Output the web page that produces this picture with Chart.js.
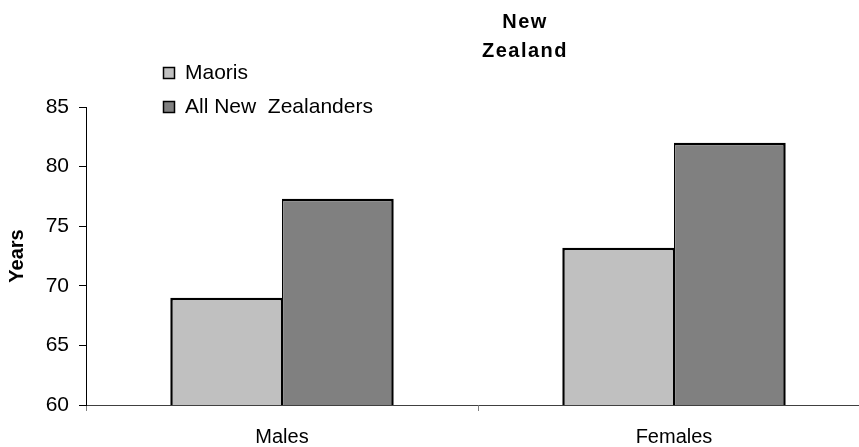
<!DOCTYPE html>
<html>
<head>
<meta charset="utf-8">
<script src="https://cdn.jsdelivr.net/npm/chart.js@4.4.1/dist/chart.umd.min.js"></script>
<style>
  html, body { margin: 0; padding: 0; background: #fff; overflow: hidden; }
  #wrap { width: 870px; height: 447px; }
</style>
</head>
<body>
<div id="wrap"><canvas id="c" width="870" height="447"></canvas></div>
<script>
// Life expectancy at birth, New Zealand (years)
const categories = ['Males', 'Females'];
const maoris = [69.0, 73.2];
const allNewZealanders = [77.3, 82.0];
const seriesNames = ['Maoris', 'All New  Zealanders'];
const seriesColors = ['#C0C0C0', '#808080'];
const titleLines = ['New', 'Zealand'];
const yAxisTitle = 'Years';
const yMin = 60, yMax = 85, yStep = 5;

const FONT = "'Liberation Sans', Arial, Helvetica, sans-serif";
Chart.defaults.font.family = FONT;
Chart.defaults.font.size = 20;
Chart.defaults.color = '#000';

// Two-line bold title, slightly letter-spaced
const titlePlugin = {
  id: 'nzTitle',
  afterDraw(chart) {
    const ctx = chart.ctx;
    ctx.save();
    ctx.font = 'bold 20px ' + FONT;
    if ('letterSpacing' in ctx) ctx.letterSpacing = '1.5px';
    ctx.fillStyle = '#000';
    ctx.textAlign = 'center';
    ctx.textBaseline = 'alphabetic';
    titleLines.forEach((t, i) => ctx.fillText(t, 525, 28 + i * 29));
    ctx.restore();
  }
};

// Stacked legend built from the datasets
const legendPlugin = {
  id: 'stackLegend',
  afterDraw(chart) {
    const ctx = chart.ctx;
    ctx.save();
    ctx.font = '21px ' + FONT;
    ctx.textBaseline = 'alphabetic';
    ctx.textAlign = 'left';
    chart.data.datasets.forEach((ds, i) => {
      const base = 79 + i * 34;
      ctx.fillStyle = ds.backgroundColor;
      ctx.fillRect(163.5, base - 11.5, 11, 11);
      ctx.strokeStyle = '#000';
      ctx.lineWidth = 1.5;
      ctx.strokeRect(163.5, base - 11.5, 11, 11);
      ctx.fillStyle = '#000';
      ctx.fillText(ds.label, 185, base);
    });
    ctx.restore();
  }
};

new Chart(document.getElementById('c'), {
  type: 'bar',
  data: {
    labels: categories,
    datasets: [
      { label: seriesNames[0], data: maoris, backgroundColor: seriesColors[0],
        borderColor: '#000', borderWidth: { top: 2.5, left: 2.5, bottom: 2.5, right: 1.25 }, borderSkipped: false },
      { label: seriesNames[1], data: allNewZealanders, backgroundColor: seriesColors[1],
        borderColor: '#000', borderWidth: { top: 2.5, left: 1.25, bottom: 2.5, right: 2.5 }, borderSkipped: false }
    ]
  },
  options: {
    responsive: false,
    animation: false,
    devicePixelRatio: 1,
    layout: { padding: { top: 107, left: 0, right: 0, bottom: 0 } },
    datasets: { bar: { categoryPercentage: 0.57, barPercentage: 1.0 } },
    plugins: {
      legend: { display: false },
      title: { display: false },
      tooltip: { enabled: false }
    },
    scales: {
      x: {
        afterFit(s) { s.height = 42; },
        grid: { offset: true, drawOnChartArea: false, drawTicks: true, tickLength: 6, color: '#808080' },
        border: { display: true, color: '#404040', width: 1 },
        ticks: { padding: 14, font: { size: 20 }, color: '#000', maxRotation: 0 }
      },
      y: {
        min: yMin, max: yMax,
        afterFit(s) { s.width = 86; },
        ticks: { stepSize: yStep, padding: 10, font: { size: 21 }, color: '#000' },
        grid: { drawOnChartArea: false, drawTicks: true, tickLength: 7, color: '#000' },
        border: { display: true, color: '#000', width: 1 },
        title: { display: true, text: yAxisTitle, font: { size: 20, weight: 'bold' }, color: '#000',
                 padding: { top: 5, bottom: 0 } }
      }
    }
  },
  plugins: [titlePlugin, legendPlugin]
});
</script>
</body>
</html>
